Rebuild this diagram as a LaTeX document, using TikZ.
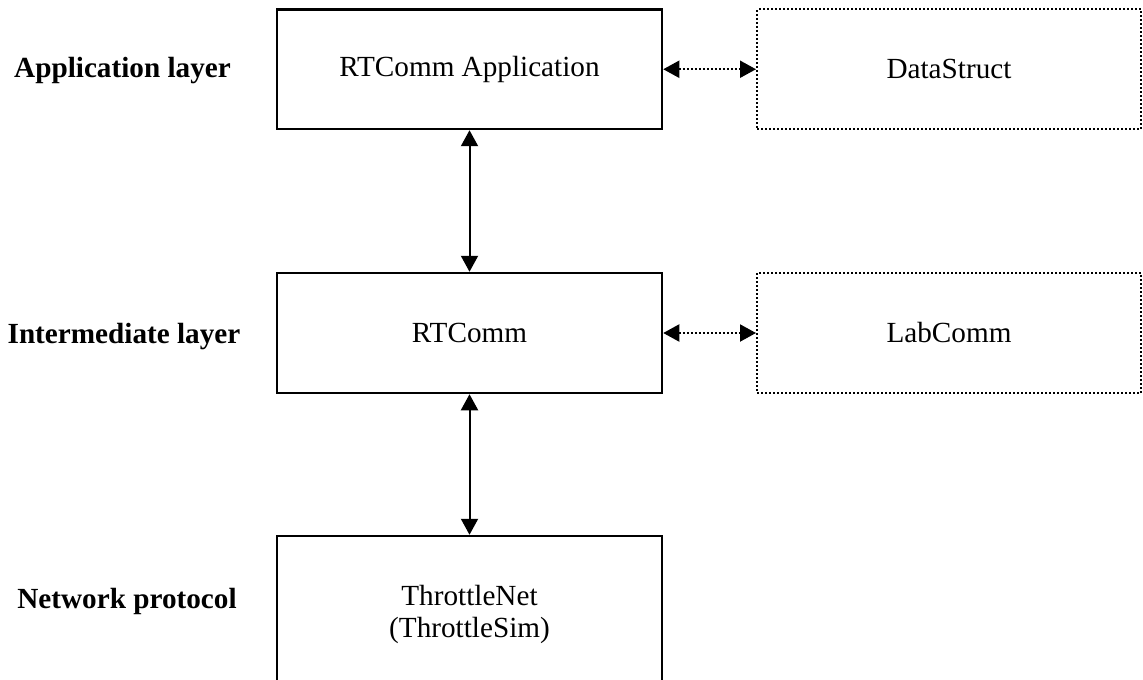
\documentclass[tikz,border=0pt]{standalone}
\usepackage{fontspec}
\setmainfont{Liberation Serif}
\usetikzlibrary{arrows.meta}
\begin{document}
\begin{tikzpicture}[x=0.5pt,y=-0.5pt,
  font=\fontsize{14.6}{16}\selectfont,
  box/.style={draw, line width=1.25pt, rectangle, inner sep=0pt, align=center},
  optbox/.style={draw, line width=1pt, dash pattern=on 1pt off 1pt, rectangle, inner sep=0pt, align=center},
  layerlabel/.style={font=\fontsize{14.6}{16}\selectfont\bfseries, anchor=base, inner sep=0pt},
  link/.style={line width=1pt, {Triangle[length=8pt,width=8.5pt]}-{Triangle[length=8pt,width=8.5pt]}},
  optlink/.style={link, dash pattern=on 1pt off 1pt}]
  \useasboundingbox (0,0) rectangle (1143,679);

  % layer captions
  \node[layerlabel] (lapp) at (122.5,78) {Application layer};
  \node[layerlabel] (lint) at (124,343) {Intermediate layer};
  \node[layerlabel] (lnet) at (127,608) {Network protocol};

  % main stack
  \node[box, minimum width=192.5pt, minimum height=59.75pt] (app) at (469.5,69.25) {RTComm Application};
  \node[box, minimum width=192.5pt, minimum height=60pt] (rt) at (469.5,333) {RTComm};
  \node[box, minimum width=192.5pt, minimum height=78pt] (thr) at (469.5,614) {ThrottleNet\\(ThrottleSim)};

  % optional side components
  \node[optbox, minimum width=192pt, minimum height=59.75pt] (data) at (949,69.25) {DataStruct};
  \node[optbox, minimum width=192pt, minimum height=60pt] (lab) at (949,333) {LabComm};

  % connections
  \draw[link] (app.south) -- (rt.north);
  \draw[link] (rt.south) -- (thr.north);
  \draw[optlink] (app.east) -- (data.west);
  \draw[optlink] (rt.east) -- (lab.west);
\end{tikzpicture}
\end{document}
